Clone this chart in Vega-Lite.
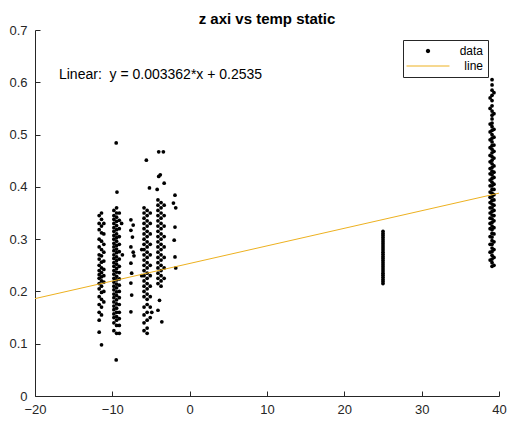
{
  "$schema": "https://vega.github.io/schema/vega-lite/v6.json",
  "autosize": "none",
  "width": 464,
  "height": 366,
  "padding": {"left": 35, "top": 30, "right": 8, "bottom": 29},
  "background": "white",
  "title": {
    "text": "z axi vs temp static",
    "fontSize": 15,
    "fontWeight": "bold",
    "color": "#000000",
    "anchor": "middle",
    "frame": "group",
    "baseline": "alphabetic",
    "offset": 2,
    "dy": 17
  },
  "datasets": {
    "readings": [
      {"temp": -11.7, "z": 0.345}, {"temp": -11.7, "z": 0.33}, {"temp": -11.7, "z": 0.318}, {"temp": -11.7, "z": 0.3}, {"temp": -11.7, "z": 0.285}, {"temp": -11.7, "z": 0.27},
      {"temp": -11.7, "z": 0.262}, {"temp": -11.7, "z": 0.25}, {"temp": -11.7, "z": 0.24}, {"temp": -11.7, "z": 0.232}, {"temp": -11.7, "z": 0.225}, {"temp": -11.7, "z": 0.215},
      {"temp": -11.7, "z": 0.205}, {"temp": -11.7, "z": 0.19}, {"temp": -11.7, "z": 0.175}, {"temp": -11.7, "z": 0.16}, {"temp": -11.7, "z": 0.145}, {"temp": -11.7, "z": 0.122},
      {"temp": -11.4, "z": 0.35}, {"temp": -11.4, "z": 0.338}, {"temp": -11.4, "z": 0.325}, {"temp": -11.4, "z": 0.312}, {"temp": -11.4, "z": 0.296}, {"temp": -11.4, "z": 0.28},
      {"temp": -11.4, "z": 0.268}, {"temp": -11.4, "z": 0.256}, {"temp": -11.4, "z": 0.245}, {"temp": -11.4, "z": 0.236}, {"temp": -11.4, "z": 0.228}, {"temp": -11.4, "z": 0.22},
      {"temp": -11.4, "z": 0.21}, {"temp": -11.4, "z": 0.198}, {"temp": -11.4, "z": 0.185}, {"temp": -11.4, "z": 0.17}, {"temp": -11.4, "z": 0.155}, {"temp": -11.4, "z": 0.098},
      {"temp": -11.1, "z": 0.33}, {"temp": -11.1, "z": 0.31}, {"temp": -11.1, "z": 0.29}, {"temp": -11.1, "z": 0.275}, {"temp": -11.1, "z": 0.258}, {"temp": -11.1, "z": 0.242},
      {"temp": -11.1, "z": 0.23}, {"temp": -11.1, "z": 0.218}, {"temp": -11.1, "z": 0.2}, {"temp": -11.1, "z": 0.18},

      {"temp": -9.8, "z": 0.355}, {"temp": -9.8, "z": 0.345}, {"temp": -9.8, "z": 0.338}, {"temp": -9.8, "z": 0.33}, {"temp": -9.8, "z": 0.322}, {"temp": -9.8, "z": 0.315},
      {"temp": -9.8, "z": 0.307}, {"temp": -9.8, "z": 0.3}, {"temp": -9.8, "z": 0.292}, {"temp": -9.8, "z": 0.285}, {"temp": -9.8, "z": 0.278}, {"temp": -9.8, "z": 0.27},
      {"temp": -9.8, "z": 0.263}, {"temp": -9.8, "z": 0.255}, {"temp": -9.8, "z": 0.248}, {"temp": -9.8, "z": 0.24}, {"temp": -9.8, "z": 0.233}, {"temp": -9.8, "z": 0.225},
      {"temp": -9.8, "z": 0.218}, {"temp": -9.8, "z": 0.21}, {"temp": -9.8, "z": 0.203}, {"temp": -9.8, "z": 0.195}, {"temp": -9.8, "z": 0.188}, {"temp": -9.8, "z": 0.18},
      {"temp": -9.8, "z": 0.172}, {"temp": -9.8, "z": 0.165}, {"temp": -9.8, "z": 0.157}, {"temp": -9.8, "z": 0.15}, {"temp": -9.8, "z": 0.14}, {"temp": -9.8, "z": 0.125},
      {"temp": -9.45, "z": 0.36}, {"temp": -9.45, "z": 0.35}, {"temp": -9.45, "z": 0.342}, {"temp": -9.45, "z": 0.334}, {"temp": -9.45, "z": 0.326}, {"temp": -9.45, "z": 0.318},
      {"temp": -9.45, "z": 0.31}, {"temp": -9.45, "z": 0.303}, {"temp": -9.45, "z": 0.296}, {"temp": -9.45, "z": 0.288}, {"temp": -9.45, "z": 0.281}, {"temp": -9.45, "z": 0.274},
      {"temp": -9.45, "z": 0.266}, {"temp": -9.45, "z": 0.259}, {"temp": -9.45, "z": 0.252}, {"temp": -9.45, "z": 0.244}, {"temp": -9.45, "z": 0.237}, {"temp": -9.45, "z": 0.229},
      {"temp": -9.45, "z": 0.222}, {"temp": -9.45, "z": 0.214}, {"temp": -9.45, "z": 0.207}, {"temp": -9.45, "z": 0.199}, {"temp": -9.45, "z": 0.192}, {"temp": -9.45, "z": 0.184},
      {"temp": -9.45, "z": 0.176}, {"temp": -9.45, "z": 0.168}, {"temp": -9.45, "z": 0.16}, {"temp": -9.45, "z": 0.152}, {"temp": -9.45, "z": 0.145}, {"temp": -9.45, "z": 0.135},
      {"temp": -9.45, "z": 0.12},
      {"temp": -9.1, "z": 0.35}, {"temp": -9.1, "z": 0.336}, {"temp": -9.1, "z": 0.32}, {"temp": -9.1, "z": 0.305}, {"temp": -9.1, "z": 0.29}, {"temp": -9.1, "z": 0.276},
      {"temp": -9.1, "z": 0.262}, {"temp": -9.1, "z": 0.248}, {"temp": -9.1, "z": 0.236}, {"temp": -9.1, "z": 0.224}, {"temp": -9.1, "z": 0.212}, {"temp": -9.1, "z": 0.2},
      {"temp": -9.1, "z": 0.188}, {"temp": -9.1, "z": 0.175}, {"temp": -9.1, "z": 0.16}, {"temp": -9.1, "z": 0.148}, {"temp": -9.1, "z": 0.135}, {"temp": -9.1, "z": 0.12},
      {"temp": -9.5, "z": 0.484}, {"temp": -9.4, "z": 0.39}, {"temp": -9.5, "z": 0.069}, {"temp": -8.8, "z": 0.33}, {"temp": -8.7, "z": 0.27},

      {"temp": -7.6, "z": 0.337}, {"temp": -7.3, "z": 0.327}, {"temp": -7.6, "z": 0.317}, {"temp": -7.4, "z": 0.304}, {"temp": -7.6, "z": 0.285}, {"temp": -7.3, "z": 0.275},
      {"temp": -7.2, "z": 0.268}, {"temp": -7.6, "z": 0.254}, {"temp": -7.5, "z": 0.235}, {"temp": -7.6, "z": 0.216}, {"temp": -7.5, "z": 0.193}, {"temp": -7.6, "z": 0.161},

      {"temp": -5.9, "z": 0.36}, {"temp": -5.9, "z": 0.35}, {"temp": -5.9, "z": 0.34}, {"temp": -5.9, "z": 0.33}, {"temp": -5.9, "z": 0.32}, {"temp": -5.9, "z": 0.31},
      {"temp": -5.9, "z": 0.3}, {"temp": -5.9, "z": 0.29}, {"temp": -5.9, "z": 0.28}, {"temp": -5.9, "z": 0.27}, {"temp": -5.9, "z": 0.26}, {"temp": -5.9, "z": 0.25},
      {"temp": -5.9, "z": 0.24}, {"temp": -5.9, "z": 0.23}, {"temp": -5.9, "z": 0.22}, {"temp": -5.9, "z": 0.21}, {"temp": -5.9, "z": 0.2}, {"temp": -5.9, "z": 0.19},
      {"temp": -5.9, "z": 0.17}, {"temp": -5.9, "z": 0.155}, {"temp": -5.9, "z": 0.14}, {"temp": -5.9, "z": 0.125},
      {"temp": -5.5, "z": 0.355}, {"temp": -5.5, "z": 0.345}, {"temp": -5.5, "z": 0.335}, {"temp": -5.5, "z": 0.325}, {"temp": -5.5, "z": 0.315}, {"temp": -5.5, "z": 0.305},
      {"temp": -5.5, "z": 0.295}, {"temp": -5.5, "z": 0.285}, {"temp": -5.5, "z": 0.275}, {"temp": -5.5, "z": 0.265}, {"temp": -5.5, "z": 0.255}, {"temp": -5.5, "z": 0.245},
      {"temp": -5.5, "z": 0.235}, {"temp": -5.5, "z": 0.225}, {"temp": -5.5, "z": 0.215}, {"temp": -5.5, "z": 0.205}, {"temp": -5.5, "z": 0.195}, {"temp": -5.5, "z": 0.185},
      {"temp": -5.5, "z": 0.175}, {"temp": -5.5, "z": 0.16}, {"temp": -5.5, "z": 0.145}, {"temp": -5.5, "z": 0.13}, {"temp": -5.5, "z": 0.12},
      {"temp": -5.1, "z": 0.35}, {"temp": -5.1, "z": 0.33}, {"temp": -5.1, "z": 0.31}, {"temp": -5.1, "z": 0.29}, {"temp": -5.1, "z": 0.27}, {"temp": -5.1, "z": 0.25},
      {"temp": -5.1, "z": 0.23}, {"temp": -5.1, "z": 0.21}, {"temp": -5.1, "z": 0.19}, {"temp": -5.1, "z": 0.17}, {"temp": -5.1, "z": 0.15},
      {"temp": -5.6, "z": 0.451}, {"temp": -5.2, "z": 0.398}, {"temp": -6.2, "z": 0.23}, {"temp": -6.2, "z": 0.28}, {"temp": -4.9, "z": 0.16},

      {"temp": -4.1, "z": 0.375}, {"temp": -4.1, "z": 0.365}, {"temp": -4.1, "z": 0.355}, {"temp": -4.1, "z": 0.345}, {"temp": -4.1, "z": 0.335}, {"temp": -4.1, "z": 0.325},
      {"temp": -4.1, "z": 0.315}, {"temp": -4.1, "z": 0.305}, {"temp": -4.1, "z": 0.295}, {"temp": -4.1, "z": 0.285}, {"temp": -4.1, "z": 0.275}, {"temp": -4.1, "z": 0.265},
      {"temp": -4.1, "z": 0.255}, {"temp": -4.1, "z": 0.245}, {"temp": -4.1, "z": 0.235}, {"temp": -4.1, "z": 0.225}, {"temp": -4.1, "z": 0.215},
      {"temp": -3.7, "z": 0.37}, {"temp": -3.7, "z": 0.36}, {"temp": -3.7, "z": 0.35}, {"temp": -3.7, "z": 0.34}, {"temp": -3.7, "z": 0.33}, {"temp": -3.7, "z": 0.32},
      {"temp": -3.7, "z": 0.31}, {"temp": -3.7, "z": 0.3}, {"temp": -3.7, "z": 0.29}, {"temp": -3.7, "z": 0.28}, {"temp": -3.7, "z": 0.27}, {"temp": -3.7, "z": 0.26},
      {"temp": -3.7, "z": 0.25}, {"temp": -3.7, "z": 0.24}, {"temp": -3.7, "z": 0.23}, {"temp": -3.7, "z": 0.22}, {"temp": -3.7, "z": 0.21},
      {"temp": -3.3, "z": 0.365}, {"temp": -3.3, "z": 0.345}, {"temp": -3.3, "z": 0.325}, {"temp": -3.3, "z": 0.305}, {"temp": -3.3, "z": 0.285}, {"temp": -3.3, "z": 0.265},
      {"temp": -3.3, "z": 0.245}, {"temp": -3.3, "z": 0.225},
      {"temp": -4.0, "z": 0.467}, {"temp": -3.4, "z": 0.467}, {"temp": -3.8, "z": 0.423}, {"temp": -3.3, "z": 0.407}, {"temp": -4.2, "z": 0.395}, {"temp": -3.9, "z": 0.183},
      {"temp": -4.1, "z": 0.164}, {"temp": -3.6, "z": 0.142}, {"temp": -4.0, "z": 0.42},

      {"temp": -1.9, "z": 0.384}, {"temp": -2.1, "z": 0.369}, {"temp": -1.8, "z": 0.36}, {"temp": -1.9, "z": 0.323}, {"temp": -2.0, "z": 0.298}, {"temp": -1.9, "z": 0.266},
      {"temp": -1.8, "z": 0.245},

      {"temp": 25, "z": 0.315}, {"temp": 25, "z": 0.311}, {"temp": 25, "z": 0.307}, {"temp": 25, "z": 0.303}, {"temp": 25, "z": 0.299}, {"temp": 25, "z": 0.295},
      {"temp": 25, "z": 0.291}, {"temp": 25, "z": 0.287}, {"temp": 25, "z": 0.283}, {"temp": 25, "z": 0.279}, {"temp": 25, "z": 0.275}, {"temp": 25, "z": 0.271},
      {"temp": 25, "z": 0.267}, {"temp": 25, "z": 0.263}, {"temp": 25, "z": 0.259}, {"temp": 25, "z": 0.255}, {"temp": 25, "z": 0.251}, {"temp": 25, "z": 0.247},
      {"temp": 25, "z": 0.243}, {"temp": 25, "z": 0.239}, {"temp": 25, "z": 0.235}, {"temp": 25, "z": 0.231}, {"temp": 25, "z": 0.227}, {"temp": 25, "z": 0.223},
      {"temp": 25, "z": 0.219}, {"temp": 25, "z": 0.215},

      {"temp": 39.1, "z": 0.605}, {"temp": 39.1, "z": 0.595}, {"temp": 39.1, "z": 0.585}, {"temp": 39.1, "z": 0.575}, {"temp": 39.1, "z": 0.565}, {"temp": 39.1, "z": 0.555},
      {"temp": 39.1, "z": 0.545}, {"temp": 39.1, "z": 0.537}, {"temp": 39.1, "z": 0.53}, {"temp": 39.1, "z": 0.522}, {"temp": 39.1, "z": 0.515}, {"temp": 39.1, "z": 0.508},
      {"temp": 39.1, "z": 0.5}, {"temp": 39.1, "z": 0.493}, {"temp": 39.1, "z": 0.486}, {"temp": 39.1, "z": 0.479}, {"temp": 39.1, "z": 0.472}, {"temp": 39.1, "z": 0.465},
      {"temp": 39.1, "z": 0.458}, {"temp": 39.1, "z": 0.451}, {"temp": 39.1, "z": 0.444}, {"temp": 39.1, "z": 0.437}, {"temp": 39.1, "z": 0.43}, {"temp": 39.1, "z": 0.423},
      {"temp": 39.1, "z": 0.416}, {"temp": 39.1, "z": 0.409}, {"temp": 39.1, "z": 0.402}, {"temp": 39.1, "z": 0.395}, {"temp": 39.1, "z": 0.388}, {"temp": 39.1, "z": 0.381},
      {"temp": 39.1, "z": 0.374}, {"temp": 39.1, "z": 0.367}, {"temp": 39.1, "z": 0.36}, {"temp": 39.1, "z": 0.353}, {"temp": 39.1, "z": 0.346}, {"temp": 39.1, "z": 0.339},
      {"temp": 39.1, "z": 0.332}, {"temp": 39.1, "z": 0.325}, {"temp": 39.1, "z": 0.318}, {"temp": 39.1, "z": 0.311}, {"temp": 39.1, "z": 0.304}, {"temp": 39.1, "z": 0.297},
      {"temp": 39.1, "z": 0.29}, {"temp": 39.1, "z": 0.283}, {"temp": 39.1, "z": 0.276}, {"temp": 39.1, "z": 0.269}, {"temp": 39.1, "z": 0.262}, {"temp": 39.1, "z": 0.255},
      {"temp": 39.1, "z": 0.248},
      {"temp": 38.85, "z": 0.57}, {"temp": 38.85, "z": 0.55}, {"temp": 38.85, "z": 0.52}, {"temp": 38.85, "z": 0.505}, {"temp": 38.85, "z": 0.49}, {"temp": 38.85, "z": 0.475},
      {"temp": 38.85, "z": 0.46}, {"temp": 38.85, "z": 0.448}, {"temp": 38.85, "z": 0.435}, {"temp": 38.85, "z": 0.425}, {"temp": 38.85, "z": 0.413}, {"temp": 38.85, "z": 0.402},
      {"temp": 38.85, "z": 0.39}, {"temp": 38.85, "z": 0.38}, {"temp": 38.85, "z": 0.37}, {"temp": 38.85, "z": 0.36}, {"temp": 38.85, "z": 0.35}, {"temp": 38.85, "z": 0.34},
      {"temp": 38.85, "z": 0.33}, {"temp": 38.85, "z": 0.32}, {"temp": 38.85, "z": 0.305}, {"temp": 38.85, "z": 0.29}, {"temp": 38.85, "z": 0.275}, {"temp": 38.85, "z": 0.26},
      {"temp": 39.35, "z": 0.58}, {"temp": 39.35, "z": 0.54}, {"temp": 39.35, "z": 0.51}, {"temp": 39.35, "z": 0.495}, {"temp": 39.35, "z": 0.48}, {"temp": 39.35, "z": 0.468},
      {"temp": 39.35, "z": 0.455}, {"temp": 39.35, "z": 0.44}, {"temp": 39.35, "z": 0.428}, {"temp": 39.35, "z": 0.418}, {"temp": 39.35, "z": 0.405}, {"temp": 39.35, "z": 0.395},
      {"temp": 39.35, "z": 0.385}, {"temp": 39.35, "z": 0.375}, {"temp": 39.35, "z": 0.365}, {"temp": 39.35, "z": 0.355}, {"temp": 39.35, "z": 0.345}, {"temp": 39.35, "z": 0.335},
      {"temp": 39.35, "z": 0.322}, {"temp": 39.35, "z": 0.31}, {"temp": 39.35, "z": 0.295}, {"temp": 39.35, "z": 0.28}, {"temp": 39.35, "z": 0.265}, {"temp": 39.35, "z": 0.25}
    ],
    "fit": [
      {"temp": -20, "z": 0.18626},
      {"temp": 40, "z": 0.38798}
    ],
    "annotation": [
      {"temp": -16.9, "z": 0.614, "label": "Linear:\u00a0 y = 0.003362*x + 0.2535"}
    ]
  },
  "layer": [
    {
      "data": {"name": "readings"},
      "mark": {"type": "point", "filled": true, "opacity": 1, "size": 14},
      "encoding": {
        "x": {
          "field": "temp", "type": "quantitative",
          "scale": {"domain": [-20, 40], "nice": false, "zero": false},
          "axis": {"values": [-20, -10, 0, 10, 20, 30, 40], "labelPadding": 12, "labelFlush": false}
        },
        "y": {
          "field": "z", "type": "quantitative",
          "scale": {"domain": [0, 0.7], "nice": false, "zero": false},
          "axis": {"values": [0, 0.1, 0.2, 0.3, 0.4, 0.5, 0.6, 0.7], "format": "~g", "labelPadding": 13}
        },
        "shape": {
          "datum": "data",
          "scale": {"domain": ["data", "line"], "range": ["circle", "M-12.4,0H12.4"]},
          "legend": {
            "orient": "none",
            "legendX": 368,
            "legendY": 10,
            "title": null,
            "padding": 5,
            "strokeColor": "#262626",
            "fillColor": "#ffffff",
            "symbolSize": 12,
            "symbolStrokeWidth": 1,
            "symbolOpacity": 1,
            "symbolOffset": 14,
            "rowPadding": 3,
            "labelFontSize": 12,
            "labelColor": "#000000",
            "labelAlign": "right",
            "labelOffset": 49
          }
        },
        "color": {
          "datum": "data",
          "scale": {"domain": ["data", "line"], "range": ["#000000", "#EDB120"]}
        }
      }
    },
    {
      "data": {"name": "fit"},
      "mark": {"type": "line", "strokeWidth": 1},
      "encoding": {
        "x": {"field": "temp", "type": "quantitative"},
        "y": {"field": "z", "type": "quantitative"},
        "color": {"datum": "line"}
      }
    },
    {
      "data": {"name": "annotation"},
      "mark": {"type": "text", "align": "left", "baseline": "middle", "fontSize": 14, "color": "#000000"},
      "encoding": {
        "x": {"field": "temp", "type": "quantitative"},
        "y": {"field": "z", "type": "quantitative"},
        "text": {"field": "label"}
      }
    }
  ],
  "config": {
    "font": "Liberation Sans",
    "view": {"stroke": null},
    "axis": {
      "grid": false,
      "title": null,
      "domainColor": "#262626",
      "domainWidth": 1,
      "tickColor": "#262626",
      "tickWidth": 1,
      "tickSize": -5,
      "labelColor": "#262626",
      "labelFontSize": 13
    }
  }
}
